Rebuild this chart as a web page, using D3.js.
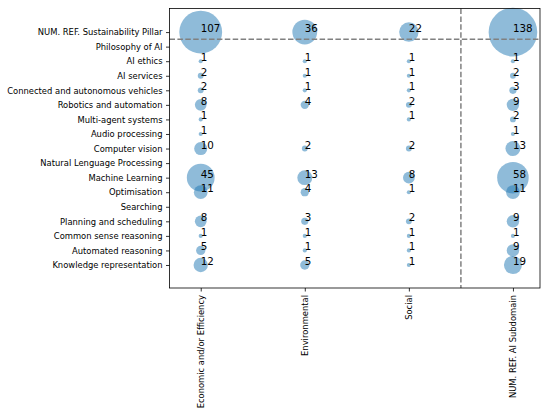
<!DOCTYPE html>
<html><head><meta charset="utf-8">
<script src="https://cdn.jsdelivr.net/npm/d3@7"></script>
<style>body{margin:0;background:#fff}svg{display:block}text{font-family:"DejaVu Sans",sans-serif}</style>
</head><body><svg id="c" width="550" height="415"></svg>
<script>
const rowLabels = ["NUM. REF. Sustainability Pillar","Philosophy of AI","AI ethics","AI services","Connected and autonomous vehicles","Robotics and automation","Multi-agent systems","Audio processing","Computer vision","Natural Lenguage Processing","Machine Learning","Optimisation","Searching","Planning and scheduling","Common sense reasoning","Automated reasoning","Knowledge representation"];
const colLabels = ["Economic and/or Efficiency","Environmental","Social","NUM. REF. AI Subdomain"];
const economic = [107,null,1,2,2,8,1,1,10,null,45,11,null,8,1,5,12];
const environmental = [36,null,1,1,1,4,null,null,2,null,13,4,null,3,1,1,5];
const social = [22,null,1,1,1,2,1,null,2,null,8,1,null,2,1,1,1];
const numRef = [138,null,1,2,3,9,2,1,13,null,58,11,null,9,1,9,19];
const columns = [economic, environmental, social, numRef];

const svg = d3.select("#c");
const L=169.5, R=540, T=8.5, B=288;
const x = d3.scaleLinear().domain([-0.3,3.26]).range([L,R]);
const y = d3.scaleLinear().domain([-1.62,17.58]).range([T,B]);
const r = v => 2.07*Math.sqrt(v);

const pts=[];
columns.forEach((col,ci)=>col.forEach((v,ri)=>{ if(v!=null) pts.push({ci,ri,v}); }));

const g = svg.append("g");
g.selectAll("circle").data(pts).enter().append("circle")
 .attr("cx",d=>x(d.ci)).attr("cy",d=>y(d.ri)).attr("r",d=>r(d.v))
 .attr("fill","#1f77b4").attr("fill-opacity",0.5);

// dashed separators
g.append("line").attr("x1",x(2.5)).attr("x2",x(2.5)).attr("y1",T).attr("y2",B)
 .attr("stroke","#808080").attr("stroke-width",1.5).attr("stroke-dasharray","5.5,2.4");
g.append("line").attr("x1",L).attr("x2",R).attr("y1",y(0.5)).attr("y2",y(0.5))
 .attr("stroke","#808080").attr("stroke-width",1.5).attr("stroke-dasharray","5.5,2.4");

g.selectAll("text.v").data(pts).enter().append("text").attr("class","v")
 .attr("x",d=>x(d.ci)).attr("y",d=>y(d.ri)).attr("font-size","10.3px").attr("fill","#000")
 .text(d=>d.v);

// axes
const yAxis = d3.axisLeft(y).tickValues(d3.range(rowLabels.length)).tickFormat(i=>rowLabels[i]).tickSize(3.5).tickPadding(3.5);
const ya = svg.append("g").attr("transform",`translate(${L},0)`).call(yAxis);
ya.select(".domain").remove();
ya.selectAll("text").attr("font-size","8.4px").attr("font-family","DejaVu Sans").attr("fill","#000");
ya.selectAll("line").attr("stroke","#000").attr("stroke-width",0.8);

const xAxis = d3.axisBottom(x).tickValues(d3.range(colLabels.length)).tickFormat(i=>colLabels[i]).tickSize(3.5).tickPadding(3.5);
const xa = svg.append("g").attr("transform",`translate(0,${B})`).call(xAxis);
xa.select(".domain").remove();
xa.selectAll("line").attr("stroke","#000").attr("stroke-width",0.8);
xa.selectAll("text").attr("font-size","8.4px").attr("font-family","DejaVu Sans").attr("fill","#000")
 .attr("transform","rotate(-90)").attr("text-anchor","end").attr("dy","0.32em").attr("x",-7).attr("y",0);

svg.append("rect").attr("x",L).attr("y",T).attr("width",R-L).attr("height",B-T)
 .attr("fill","none").attr("stroke","#000").attr("stroke-width",0.8);
</script></body></html>
